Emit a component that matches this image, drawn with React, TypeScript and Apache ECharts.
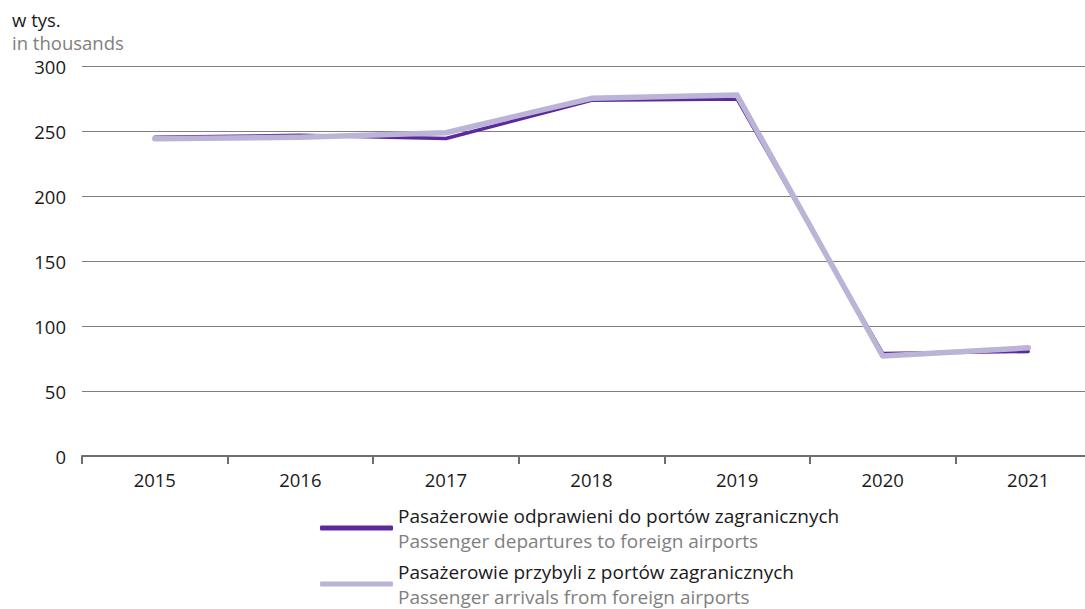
import React, { useEffect, useRef } from "react";
import * as echarts from "echarts";

const years = ["2015", "2016", "2017", "2018", "2019", "2020", "2021"];
const departures = [245.5, 247, 244.5, 274, 275, 79, 80.5];
const arrivals = [244.3, 245.5, 249, 275.5, 278, 77, 83.3];
const seriesNamesPl = [
  "Pasażerowie odprawieni do portów zagranicznych",
  "Pasażerowie przybyli z portów zagranicznych",
];
const seriesNamesEn = [
  "Passenger departures to foreign airports",
  "Passenger arrivals from foreign airports",
];
const unitPl = "w tys.";
const unitEn = "in thousands";

const DARK = "#5b2a9c";
const LIGHT = "#bcb4d6";
const FONT = "'Open Sans', sans-serif";

export default function App() {
  const ref = useRef<HTMLDivElement>(null);
  useEffect(() => {
    if (!ref.current) return;
    const chart = echarts.init(ref.current, undefined, { renderer: "svg" });
    const enByPl: Record<string, string> = {};
    seriesNamesPl.forEach((n, i) => (enByPl[n] = seriesNamesEn[i]));
    const legendBase = {
      orient: "vertical",
      left: 315,
      itemWidth: 73,
      itemHeight: 5,
      icon: "roundRect",
      selectedMode: false,
      formatter: (name: string) => `{a|${name}}\n{b|${enByPl[name]}}`,
      textStyle: {
        fontFamily: FONT,
        rich: {
          a: { fontSize: 19, color: "#1a1a1a", lineHeight: 25, fontFamily: FONT },
          b: { fontSize: 19, color: "#808080", lineHeight: 25, fontFamily: FONT },
        },
      },
    };
    chart.setOption({
      animation: false,
      textStyle: { fontFamily: FONT },
      grid: { left: 82, right: 0, top: 66.5, bottom: 153, containLabel: false },
      graphic: [
        {
          type: "text",
          left: 12,
          top: 10,
          style: { text: unitPl, fontSize: 18.5, fill: "#1a1a1a", fontFamily: FONT },
        },
        {
          type: "text",
          left: 12,
          top: 33,
          style: { text: unitEn, fontSize: 18.5, fill: "#808080", fontFamily: FONT },
        },
      ],
      legend: [
        { ...legendBase, top: 501, data: [seriesNamesPl[0]] },
        { ...legendBase, top: 557, data: [seriesNamesPl[1]] },
      ],
      xAxis: {
        type: "category",
        data: years,
        boundaryGap: true,
        axisLine: { show: true, lineStyle: { color: "#6e6e6e", width: 2 } },
        axisTick: { show: true, length: 8, inside: false, lineStyle: { color: "#6e6e6e", width: 2 } },
        axisLabel: { fontSize: 18.5, color: "#1a1a1a", margin: 14, fontFamily: FONT },
        splitLine: { show: false },
      },
      yAxis: {
        type: "value",
        min: 0,
        max: 300,
        interval: 50,
        axisLine: { show: false },
        axisTick: { show: false },
        axisLabel: { fontSize: 18.5, color: "#1a1a1a", margin: 16, fontFamily: FONT },
        splitLine: { show: true, lineStyle: { color: "#7f7f7f", width: 1 } },
      },
      series: [
        {
          name: seriesNamesPl[0],
          type: "line",
          data: departures,
          showSymbol: false,
          symbol: "none",
          color: DARK,
          itemStyle: { color: DARK },
          lineStyle: { color: DARK, width: 3.5, cap: "round", join: "round" },
        },
        {
          name: seriesNamesPl[1],
          type: "line",
          data: arrivals,
          showSymbol: false,
          symbol: "none",
          color: LIGHT,
          itemStyle: { color: LIGHT },
          lineStyle: { color: LIGHT, width: 5.5, cap: "round", join: "round" },
        },
      ],
    });
    return () => chart.dispose();
  }, []);
  return (
    <div style={{ width: 1085, height: 609, position: "absolute", left: 0, top: 0, overflow: "hidden" }}>
      <div ref={ref} style={{ width: 1101, height: 609 }} />
    </div>
  );
}
